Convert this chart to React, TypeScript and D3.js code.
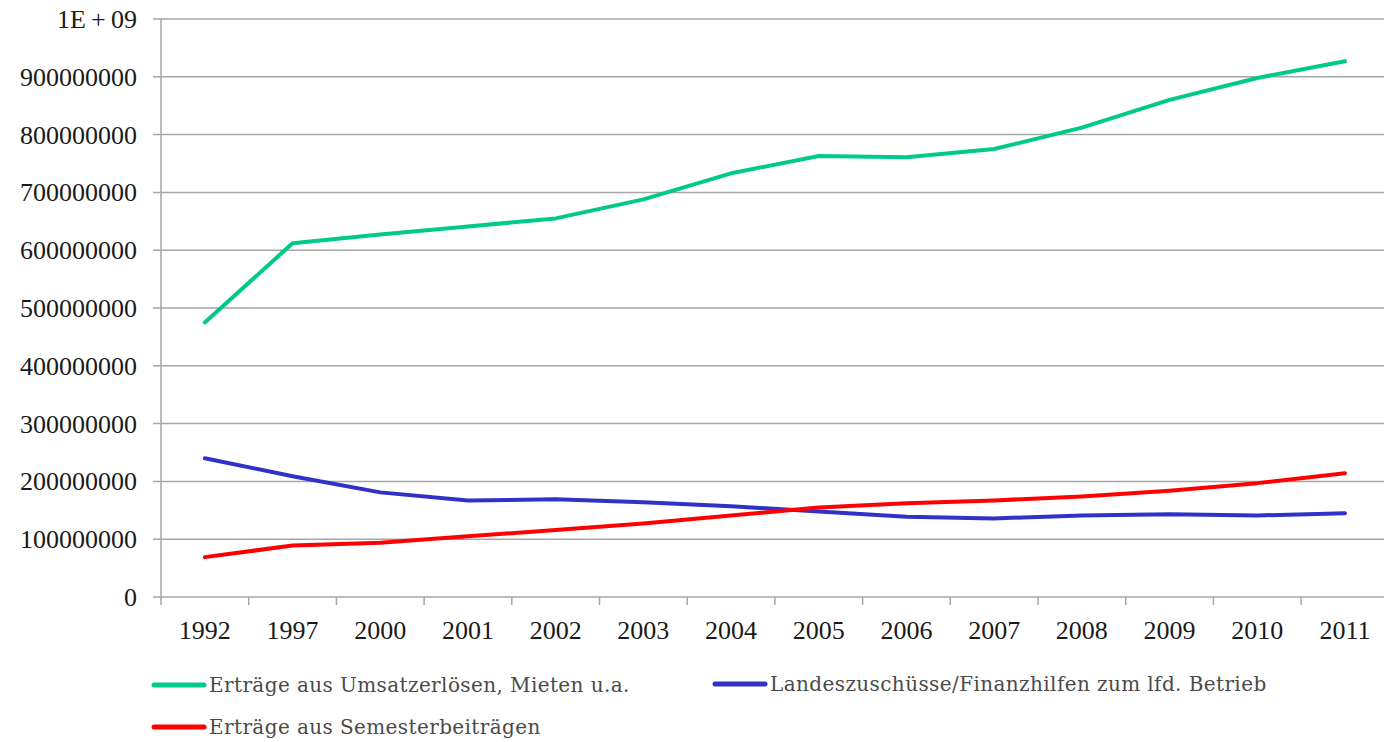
import { useEffect, useRef } from 'react';
import * as d3 from 'd3';

const WIDTH = 1384;
const HEIGHT = 742;
const MARGIN = { top: 19, right: -5, bottom: 145, left: 161 };

const YEARS = ['1992', '1997', '2000', '2001', '2002', '2003', '2004', '2005', '2006', '2007', '2008', '2009', '2010', '2011'];
const UMSATZ = [475, 612, 627, 641, 655, 688, 733, 763, 761, 775, 812, 860, 898, 927].map((v) => v * 1e6);
const LANDES = [240, 209, 181, 167, 169, 164, 157, 148, 139, 136, 141, 143, 141, 145].map((v) => v * 1e6);
const SEMESTER = [69, 89, 94, 105, 116, 127, 141, 155, 162, 167, 174, 184, 197, 214].map((v) => v * 1e6);
const Y_TICKS = [0, 1e8, 2e8, 3e8, 4e8, 5e8, 6e8, 7e8, 8e8, 9e8, 1e9];

const SERIES = [
  { name: 'Erträge aus Umsatzerlösen, Mieten u.a.', values: UMSATZ, color: '#00c98c' },
  { name: 'Landeszuschüsse/Finanzhilfen zum lfd. Betrieb', values: LANDES, color: '#3131c8' },
  { name: 'Erträge aus Semesterbeiträgen', values: SEMESTER, color: '#ff0000' },
];

export default function App() {
  const svgRef = useRef<SVGSVGElement>(null);

  useEffect(() => {
    document.body.style.margin = '0';
    const svg = d3.select(svgRef.current);
    svg.selectAll('*').remove();

    const w = WIDTH - MARGIN.left - MARGIN.right;
    const h = HEIGHT - MARGIN.top - MARGIN.bottom;
    const g = svg.append('g').attr('transform', `translate(${MARGIN.left},${MARGIN.top})`);

    const x = d3.scaleBand().domain(YEARS).range([0, 87.7 * YEARS.length]);
    const y = d3.scaleLinear().domain([0, 1e9]).range([h, 0]);

    // gridlines
    g.selectAll('.grid')
      .data(Y_TICKS)
      .join('line')
      .attr('x1', -8)
      .attr('x2', w + 10)
      .attr('y1', (d) => y(d))
      .attr('y2', (d) => y(d))
      .attr('stroke', '#a6a6a6')
      .attr('stroke-width', 1.5);

    // y axis line
    g.append('line').attr('x1', 0).attr('x2', 0).attr('y1', 0).attr('y2', h).attr('stroke', '#a6a6a6').attr('stroke-width', 1.5);

    // x ticks
    const bounds = YEARS.map((d) => x(d) as number);
    g.selectAll('.xtick')
      .data(bounds)
      .join('line')
      .attr('x1', (d) => d)
      .attr('x2', (d) => d)
      .attr('y1', h)
      .attr('y2', h + 8)
      .attr('stroke', '#a6a6a6')
      .attr('stroke-width', 1.5);

    g.selectAll('.xlabel')
      .data(YEARS)
      .join('text')
      .attr('x', (d) => (x(d) as number) + x.bandwidth() / 2)
      .attr('y', h + 42)
      .attr('text-anchor', 'middle')
      .style('font-family', '"Liberation Serif", serif')
      .style('font-size', '26px')
      .style('fill', '#1a1a1a')
      .text((d) => d);

    g.selectAll('.ylabel')
      .data(Y_TICKS)
      .join('text')
      .attr('x', -24)
      .attr('y', (d) => y(d) + 9)
      .attr('text-anchor', 'end')
      .style('font-family', '"Liberation Serif", serif')
      .style('font-size', '26px')
      .style('fill', '#1a1a1a')
      .text((d) => (d === 1e9 ? '1E\u2009+\u200909' : String(d)));

    const line = d3
      .line<number>()
      .x((_, i) => (x(YEARS[i]) as number) + x.bandwidth() / 2)
      .y((d) => y(d));

    SERIES.forEach((s) => {
      g.append('path')
        .attr('d', line(s.values))
        .attr('fill', 'none')
        .attr('stroke', s.color)
        .attr('stroke-width', 4)
        .attr('stroke-linejoin', 'round')
        .attr('stroke-linecap', 'round');
    });

    // legend
    const legendPos = [
      { x: 152, y: 685 },
      { x: 713, y: 684 },
      { x: 152, y: 727 },
    ];
    SERIES.forEach((s, i) => {
      const p = legendPos[i];
      svg.append('line')
        .attr('x1', p.x + 2)
        .attr('x2', p.x + 52)
        .attr('y1', p.y)
        .attr('y2', p.y)
        .attr('stroke', s.color)
        .attr('stroke-width', 5)
        .attr('stroke-linecap', 'round');
      svg.append('text')
        .attr('x', p.x + 57)
        .attr('y', p.y + 7)
        .style('font-family', '"DejaVu Serif", serif')
        .style('font-size', '20px')
        .style('letter-spacing', '0.4px')
        .style('font-weight', 300)
        .style('fill', '#4a4a4a')
        .text(s.name);
    });
  }, []);

  return <svg ref={svgRef} width={WIDTH} height={HEIGHT} style={{ display: 'block', background: '#fff' }} />;
}
